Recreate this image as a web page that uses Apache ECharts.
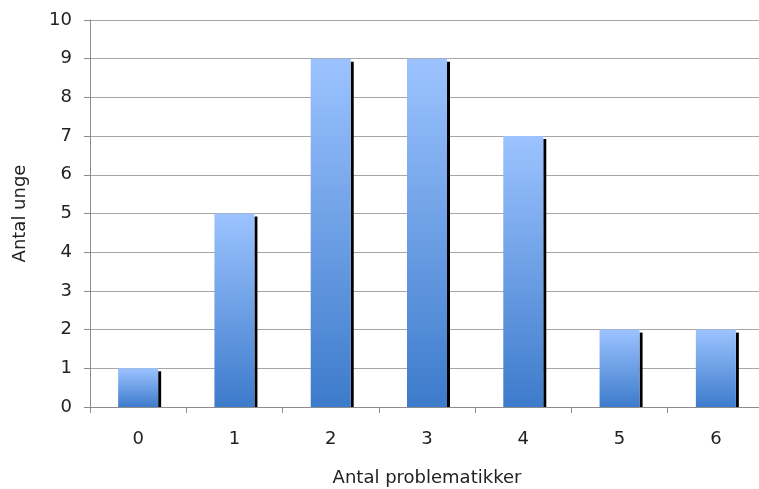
<!DOCTYPE html>
<html>
<head>
<meta charset="utf-8">
<script src="https://cdn.jsdelivr.net/npm/echarts@6/dist/echarts.min.js"></script>
<style>
  html, body { margin: 0; padding: 0; background: #fff; }
  #chart { width: 759px; height: 489px; }
</style>
</head>
<body>
<div id="chart"></div>
<script>
// Number of problem areas per young person (x) and count of young people (y)
const categories = ['0', '1', '2', '3', '4', '5', '6'];
const counts = [1, 5, 9, 9, 7, 2, 2];
const yTicks = [0, 1, 2, 3, 4, 5, 6, 7, 8, 9, 10];

const FONT = 'DejaVu Sans';
const BAR_WIDTH = 40;
const SHADOW_W = 3;
const SHADOW_DROP = 3;

const chart = echarts.init(document.getElementById('chart'), null, { renderer: 'canvas' });

// Gradient column with a thin dark drop shadow on its right side
function renderBar(params, api) {
  const idx = api.value(0);
  const val = api.value(1);
  const top = api.coord([idx, val]);
  const base = api.coord([idx, 0]);
  const x0 = top[0] - BAR_WIDTH / 2;
  return {
    type: 'group',
    children: [
      {
        type: 'rect',
        shape: { x: x0 + BAR_WIDTH, y: top[1] + SHADOW_DROP, width: SHADOW_W, height: base[1] - top[1] - SHADOW_DROP },
        style: { fill: '#000000' }
      },
      {
        type: 'rect',
        shape: { x: x0, y: top[1], width: BAR_WIDTH, height: base[1] - top[1] },
        style: {
          fill: new echarts.graphic.LinearGradient(0, 0, 0, 1, [
            { offset: 0, color: '#9cc3ff' },
            { offset: 1, color: '#3d7bcb' }
          ])
        }
      }
    ]
  };
}

chart.setOption({
  animation: false,
  grid: { left: 90, top: 20, width: 674, height: 387, containLabel: false, outerBoundsMode: 'none' },
  xAxis: {
    type: 'category',
    data: categories,
    boundaryGap: true,
    name: 'Antal problematikker',
    nameLocation: 'middle',
    nameGap: 62,
    nameTextStyle: { fontFamily: FONT, fontSize: 18, color: '#222' },
    axisLine: { lineStyle: { color: '#8c8c8c', width: 1 } },
    axisTick: { show: true, length: 6, lineStyle: { color: '#8c8c8c' } },
    axisLabel: { fontFamily: FONT, fontSize: 18, color: '#222', margin: 23 },
    splitLine: { show: false }
  },
  yAxis: {
    type: 'value',
    min: yTicks[0],
    max: yTicks[yTicks.length - 1],
    interval: 1,
    name: 'Antal unge',
    nameLocation: 'middle',
    nameGap: 61,
    nameRotate: 90,
    nameTextStyle: { fontFamily: FONT, fontSize: 18, color: '#222' },
    axisLine: { show: true, lineStyle: { color: '#8c8c8c', width: 1 } },
    axisTick: { show: true, length: 6, lineStyle: { color: '#8c8c8c' } },
    axisLabel: { fontFamily: FONT, fontSize: 18, color: '#222', margin: 18 },
    splitLine: { show: true, lineStyle: { color: '#a6a6a6', width: 1 } }
  },
  series: [{
    type: 'custom',
    renderItem: renderBar,
    encode: { x: 0, y: 1 },
    data: counts.map((v, i) => [i, v])
  }]
});
</script>
</body>
</html>
